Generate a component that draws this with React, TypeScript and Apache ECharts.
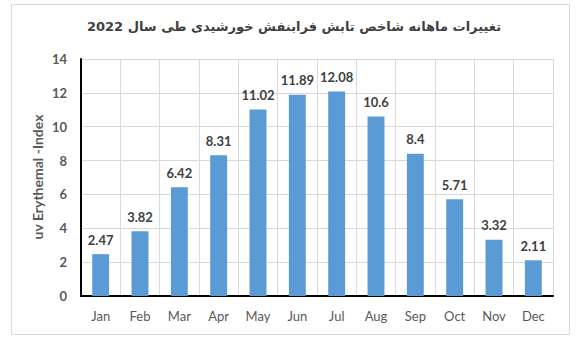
import React, { useEffect, useRef } from "react";
import * as echarts from "echarts";

const titleText = "تغییرات ماهانه شاخص تابش فرابنفش خورشیدی طی سال 2022";
const yAxisName = "uv Erythemal -Index";
const months = ["Jan", "Feb", "Mar", "Apr", "May", "Jun", "Jul", "Aug", "Sep", "Oct", "Nov", "Dec"];
const uvIndex = [2.47, 3.82, 6.42, 8.31, 11.02, 11.89, 12.08, 10.6, 8.4, 5.71, 3.32, 2.11];

export default function App() {
  const ref = useRef<HTMLDivElement>(null);
  useEffect(() => {
    if (!ref.current) return;
    const chart = echarts.init(ref.current, undefined, { renderer: "svg" });
    const font = "Lato, 'Open Sans', sans-serif";
    chart.setOption({
      animation: false,
      backgroundColor: "#ffffff",
      title: {
        text: titleText,
        left: "center",
        top: 15,
        textStyle: {
          fontFamily: "'DejaVu Sans', sans-serif",
          fontWeight: "bold",
          fontSize: 13,
          color: "#404040",
        },
      },
      graphic: [
        {
          type: "rect",
          shape: { x: 11.5, y: 4.5, width: 558, height: 330 },
          style: { fill: "none", stroke: "#d9d9d9", lineWidth: 1 },
          z: -1,
        },
        {
          type: "text",
          x: 37,
          y: 177,
          rotation: Math.PI / 2,
          style: {
            text: yAxisName,
            fontFamily: font,
            fontWeight: "bold",
            fontSize: 14,
            fill: "#595959",
            align: "center",
            verticalAlign: "middle",
          },
        },
      ],
      grid: { left: 81, right: 35, top: 59, bottom: 51, containLabel: false },
      xAxis: {
        type: "category",
        data: months,
        axisLine: { show: true, lineStyle: { color: "#000000", width: 2 } },
        axisTick: { show: false },
        splitLine: { show: true, lineStyle: { color: "#d9d9d9", width: 1 } },
        axisLabel: {
          fontFamily: font,
          fontSize: 13,
          color: "#595959",
          margin: 13,
          interval: 0,
        },
      },
      yAxis: {
        type: "value",
        min: 0,
        max: 14,
        interval: 2,
        axisLine: { show: true, lineStyle: { color: "#000000", width: 2 } },
        axisTick: { show: false },
        splitLine: { show: true, lineStyle: { color: "#d9d9d9", width: 1 } },
        axisLabel: {
          fontFamily: font,
          fontWeight: "bold",
          fontSize: 13,
          color: "#595959",
          margin: 14,
        },
      },
      series: [
        {
          type: "bar",
          data: uvIndex,
          barWidth: "43%",
          itemStyle: { color: "#5B9BD5" },
          label: {
            show: true,
            position: "top",
            distance: 8,
            fontFamily: font,
            fontWeight: "bold",
            fontSize: 13,
            color: "#404040",
          },
        },
      ],
    });
    return () => chart.dispose();
  }, []);
  return (
    <div
      ref={ref}
      style={{ position: "absolute", left: 0, top: 0, width: 588, height: 347 }}
    />
  );
}
